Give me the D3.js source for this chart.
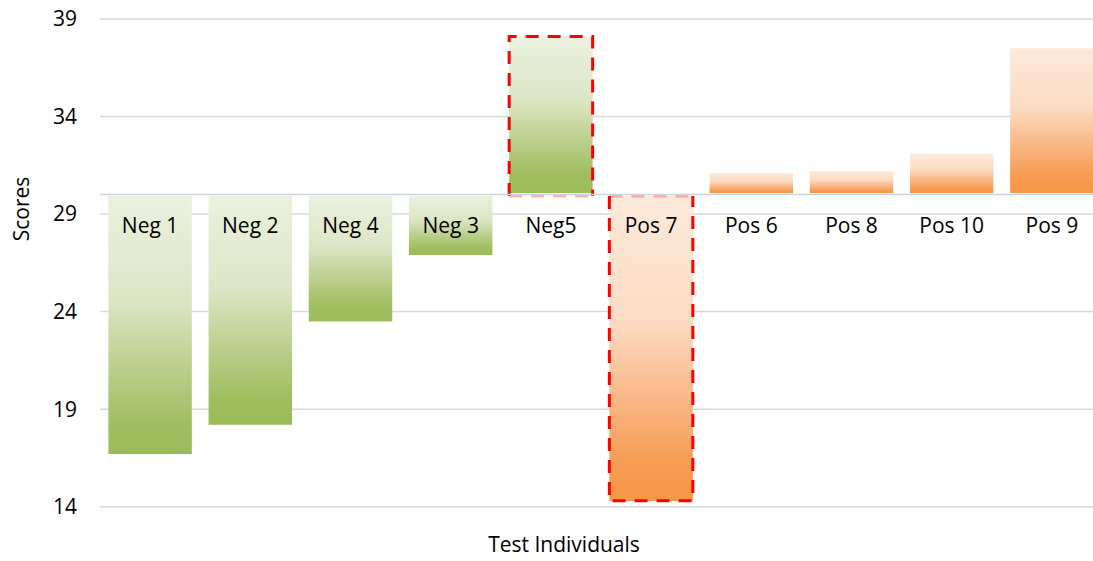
<!DOCTYPE html>
<html>
<head>
<meta charset="utf-8">
<script src="https://cdn.jsdelivr.net/npm/d3@7/dist/d3.min.js"></script>
<style>
  html, body { margin: 0; padding: 0; background: #fff; }
  svg { display: block; font-family: "Open Sans", "Noto Sans", sans-serif; }
</style>
</head>
<body>
<svg id="chart" width="1093" height="561"></svg>
<script>
// Scores per test individual, in display order
const categories = ["Neg 1", "Neg 2", "Neg 4", "Neg 3", "Neg5", "Pos 7", "Pos 6", "Pos 8", "Pos 10", "Pos 9"];
const scores     = [16.7, 18.2, 23.5, 26.9, 38.1, 14.3, 31.1, 31.2, 32.1, 37.5];
const groups     = ["neg", "neg", "neg", "neg", "neg", "pos", "pos", "pos", "pos", "pos"];
const highlighted = ["Neg5", "Pos 7"];
const yTicks     = [14, 19, 24, 29, 34, 39];
const baseline   = 30;

const data = categories.map((c, i) => ({ name: c, value: scores[i], group: groups[i] }));

const svg = d3.select("#chart");
const margin = { left: 100, right: 1102, top: 19, bottom: 506.7 };
const fontSize = 21;

const x = d3.scaleBand()
  .domain(categories)
  .range([margin.left, margin.right])
  .paddingInner(0.167)
  .paddingOuter(0.0835);

const y = d3.scaleLinear()
  .domain([14, 39])
  .range([margin.bottom, margin.top]);

// Vertical gradients: pale at the top, saturated at the bottom
const defs = svg.append("defs");
const palettes = {
  neg: [["0%", "#ebf1de"], ["40%", "#dce6c6"], ["65%", "#bdd08f"], ["88%", "#a0be60"], ["100%", "#9bbb59"]],
  pos: [["0%", "#fde9d9"], ["40%", "#fcdcc4"], ["65%", "#f9b98a"], ["88%", "#f79c52"], ["100%", "#f79646"]]
};
Object.entries(palettes).forEach(([key, stops]) => {
  const g = defs.append("linearGradient")
    .attr("id", "grad-" + key)
    .attr("x1", 0).attr("y1", 0).attr("x2", 0).attr("y2", 1);
  stops.forEach(([o, c]) => g.append("stop").attr("offset", o).attr("stop-color", c));
});

// Horizontal gridlines
svg.append("g")
  .selectAll("line")
  .data(yTicks)
  .join("line")
  .attr("x1", margin.left).attr("x2", 1093)
  .attr("y1", d => y(d)).attr("y2", d => y(d))
  .attr("stroke", "#d9d9d9")
  .attr("stroke-width", 1.5);

// Y tick labels
svg.append("g")
  .selectAll("text")
  .data(yTicks)
  .join("text")
  .attr("x", 77)
  .attr("y", d => y(d))
  .attr("dy", "0.35em")
  .attr("text-anchor", "end")
  .attr("font-size", fontSize)
  .attr("fill", "#000")
  .text(d => d);

// Bars grow from the baseline, up or down
const gap = 1.5;
svg.append("g")
  .selectAll("rect")
  .data(data)
  .join("rect")
  .attr("x", d => x(d.name))
  .attr("width", x.bandwidth())
  .attr("y", d => d.value >= baseline ? y(d.value) : y(baseline) + gap)
  .attr("height", d => d.value >= baseline ? y(baseline) - y(d.value) - gap : y(d.value) - y(baseline) - gap)
  .attr("fill", d => `url(#grad-${d.group})`);

// Dashed red outlines on the highlighted bars
const hl = data.filter(d => highlighted.includes(d.name));
const outline = svg.append("g");
hl.forEach(d => {
  const x0 = x(d.name), x1 = x0 + x.bandwidth();
  const yv = y(d.value), yb = y(baseline) + gap;
  const g = outline.append("g")
    .attr("fill", "none")
    .attr("stroke", "#ff0000")
    .attr("stroke-width", 3)
    .attr("stroke-dasharray", "13,9");
  // far edge and the two sides
  g.append("path").attr("d", d3.line()([[x0, yb], [x0, yv], [x1, yv], [x1, yb]]));
  // edge on the baseline is partly hidden behind the axis
  g.append("path").attr("d", d3.line()([[x0, yb], [x1, yb]]))
    .attr("stroke-opacity", 0.3);
});

// Category axis at the baseline
svg.append("line")
  .attr("x1", margin.left).attr("x2", 1093)
  .attr("y1", y(baseline)).attr("y2", y(baseline))
  .attr("stroke", "#c8d3e3")
  .attr("stroke-width", 1.5);

// Category labels just below the baseline
svg.append("g")
  .selectAll("text")
  .data(categories)
  .join("text")
  .attr("x", d => x(d) + x.bandwidth() / 2)
  .attr("y", y(baseline) + 31)
  .attr("dy", "0.35em")
  .attr("text-anchor", "middle")
  .attr("font-size", fontSize)
  .attr("fill", "#000")
  .text(d => d);

// Axis titles
svg.append("text")
  .attr("transform", `translate(22, 209) rotate(-90)`)
  .attr("dy", "0.35em")
  .attr("text-anchor", "middle")
  .attr("font-size", fontSize)
  .attr("fill", "#000")
  .text("Scores");

svg.append("text")
  .attr("x", 564)
  .attr("y", 545)
  .attr("dy", "0.35em")
  .attr("text-anchor", "middle")
  .attr("font-size", fontSize)
  .attr("fill", "#000")
  .text("Test Individuals");
</script>
</body>
</html>
